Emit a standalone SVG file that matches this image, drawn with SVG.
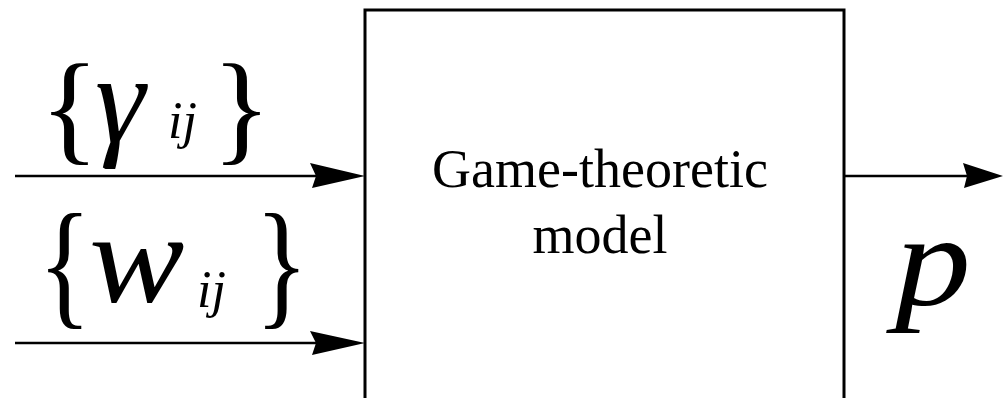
<svg xmlns="http://www.w3.org/2000/svg" width="1005" height="398" viewBox="0 0 1005 398">
<style>
.ln{stroke:#000;stroke-width:2.5;fill:none}
.ah{fill:#000}
.it{font-family:"Liberation Serif","Times New Roman",serif;font-style:italic;fill:#000}
.rm{font-family:"Liberation Serif","Times New Roman",serif;fill:#000}
</style>
<rect width="1005" height="398" fill="#fff"/>
<g id="connectors">
<line class="ln" x1="15" y1="176" x2="320" y2="176"/>
<polygon class="ah" points="310,163 365,176 312,188 316,176"/>
<line class="ln" x1="15" y1="343" x2="320" y2="343"/>
<polygon class="ah" points="310,331 365,343 312,355 316,343"/>
<line class="ln" x1="844" y1="176" x2="970" y2="176"/>
<polygon class="ah" points="963,163 1003,176 964,188 967,176"/>
</g>
<g id="model">
<rect x="365" y="10" width="479" height="392" fill="none" stroke="#000" stroke-width="3"/>
<text class="rm" x="600" y="187" font-size="54" text-anchor="middle">Game-theoretic</text>
<text class="rm" x="600" y="253" font-size="54" text-anchor="middle">model</text>
</g>
<g id="gamma-label">
<text class="rm" x="40" y="149" font-size="123">{</text>
<text class="it" x="95" y="142" font-size="127">γ</text>
<text class="it" x="168" y="138" font-size="52">ij</text>
<text class="rm" x="212" y="149" font-size="123">}</text>
</g>
<g id="w-label">
<text class="rm" transform="translate(38,310) scale(0.8,1)" x="0" y="0" font-size="139">{</text>
<text class="it" transform="translate(89,302) scale(1.1,1)" x="0" y="0" font-size="130">w</text>
<text class="it" x="197" y="307" font-size="52">ij</text>
<text class="rm" transform="translate(255,310) scale(0.8,1)" x="0" y="0" font-size="139">}</text>
</g>
<g id="p-label">
<text class="it" transform="translate(895,305) scale(1.15,1)" x="0" y="0" font-size="132">p</text>
</g>
</svg>
